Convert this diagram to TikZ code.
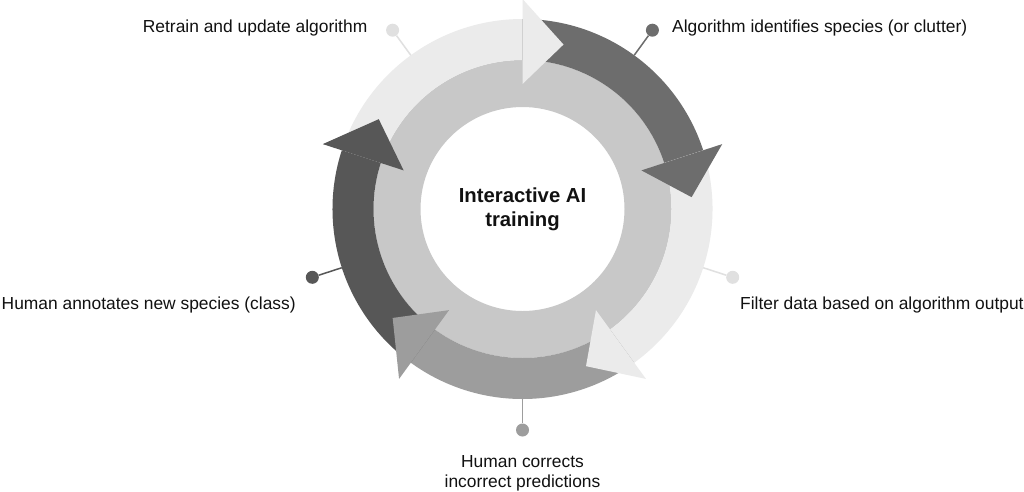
\documentclass[tikz,border=0pt]{standalone}
\usepackage{fontspec}
\setmainfont{Liberation Sans}
\definecolor{aone}{HTML}{EBEBEB}
\definecolor{atwo}{HTML}{6D6D6D}
\definecolor{athree}{HTML}{EBEBEB}
\definecolor{afour}{HTML}{9D9D9D}
\definecolor{afive}{HTML}{575757}
\definecolor{ringc}{HTML}{C8C8C8}
\definecolor{dlight}{HTML}{E0E0E0}
\definecolor{txt}{HTML}{111111}
\begin{document}
\begin{tikzpicture}[x=1pt,y=-1pt,
  lbl/.style={font=\fontsize{17.4}{21}\selectfont, inner sep=0pt, text=txt},
  ctr/.style={font=\fontsize{20.3}{24}\selectfont\bfseries, align=center, text=txt, inner sep=0pt},
  dotst/.style={circle, inner sep=0pt, minimum size=13pt},
  conn/.style={line width=1.5pt},
]
\useasboundingbox (0,0) rectangle (1024,491);
\fill[white] (0,0) rectangle (1024,491);
\begin{scope}[shift={(522.5,209)}, x=1pt, y=1pt]
  % inner ring
  \fill[ringc, even odd rule] (0,0) circle (149) (0,0) circle (102);
  % arrow shafts
  \foreach \h/\c in {90/aone, 18/atwo, -54/athree, -126/afour, 162/afive} {
    \fill[\c] (\h+72:149) arc[start angle=\h+72, end angle=\h, radius=149]
      -- (\h:190) arc[start angle=\h, end angle=\h+72, radius=190] -- cycle;
  }
  % arrow heads
  \foreach \h/\c in {90/aone, 18/atwo, -54/athree, -126/afour, 162/afive} {
    \fill[\c] (\h:125) -- (\h:210) -- (\h-14:169.5) -- cycle;
  }
  % connector anchors and dots
  \coordinate (r1) at (126:190);
  \coordinate (r2) at (54:190);
  \coordinate (r3) at (-18:190);
  \coordinate (r4) at (-90:190);
  \coordinate (r5) at (198:190);
  \node[dotst, fill=dlight] (d1) at (126:221) {};
  \node[dotst, fill=atwo] (d2) at (54:221) {};
  \node[dotst, fill=dlight] (d3) at (-18:221) {};
  \node[dotst, fill=afour] (d4) at (-90:221) {};
  \node[dotst, fill=afive] (d5) at (198:221) {};
\end{scope}
\draw[conn, draw=dlight] (r1) -- (d1);
\draw[conn, draw=atwo] (r2) -- (d2);
\draw[conn, draw=dlight] (r3) -- (d3);
\draw[conn, draw=afour] (r4) -- (d4);
\draw[conn, draw=afive] (r5) -- (d5);

\node[ctr] (center) at (522.5,209) {Interactive AI\\training};

\node[lbl, anchor=base east] (l1) at (367.5,32) {Retrain and update algorithm};
\node[lbl, anchor=base west] (l2) at (672,32) {Algorithm identifies species (or clutter)};
\node[lbl, anchor=base west] (l3) at (740,309.5) {Filter data based on algorithm output};
\node[lbl, align=center, font=\fontsize{17.4}{20}\selectfont] (l4) at (522.5,473) {Human corrects\\incorrect predictions};
\node[lbl, anchor=base west] (l5) at (1.5,309.5) {Human annotates new species (class)};
\end{tikzpicture}
\end{document}
